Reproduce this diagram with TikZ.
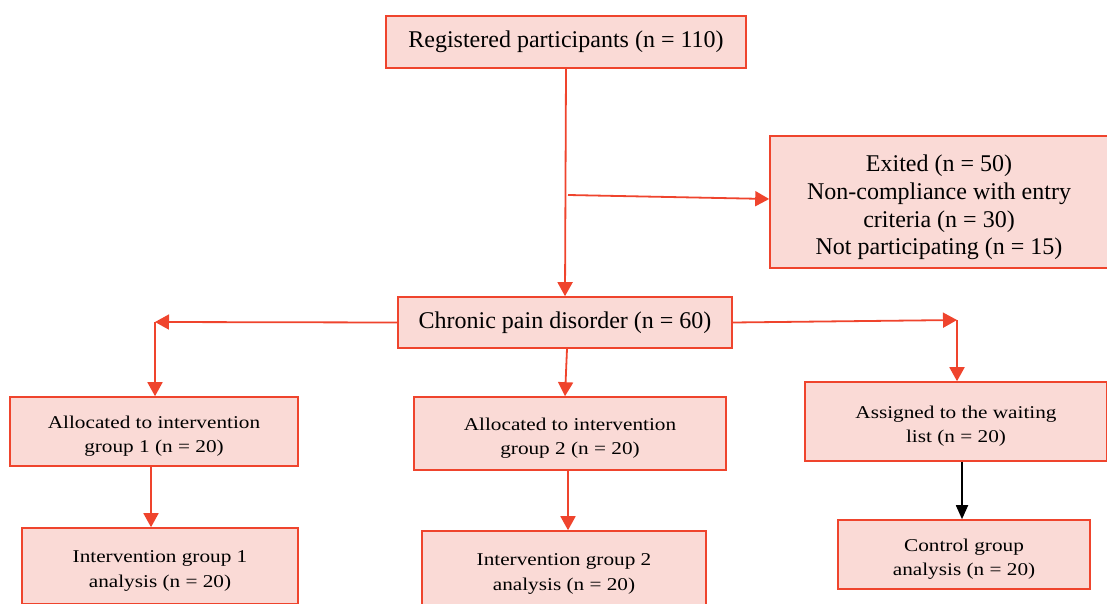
\documentclass[tikz,border=0pt]{standalone}
\usepackage{fontspec}
\setmainfont{Liberation Serif}
\newfontfamily\narrowserif[FakeStretch=1.18]{Liberation Serif}
\usetikzlibrary{arrows.meta, calc}

\definecolor{boxred}{RGB}{239,68,45}
\definecolor{boxpink}{RGB}{250,218,214}

% extra room above the first line of a box
\newcommand{\bigstrut}{\rule{0pt}{27.5pt}}
\newcommand{\smallstrut}{\rule{0pt}{22pt}}

\tikzset{
    box/.style={draw=boxred, fill=boxpink, line width=1.6pt, align=center, inner sep=0pt},
    bigtext/.style={font=\fontsize{24}{27.7}\selectfont},
    smalltext/.style={font=\fontsize{18}{24.5}\narrowserif},
    arr/.style={draw=boxred, line width=1.8pt, -{Triangle[length=14pt,width=15pt]}},
    blackarr/.style={draw=black, line width=1.8pt, -{Triangle[length=14pt,width=12pt]}}
}

\begin{document}
\begin{tikzpicture}[x=1pt, y=-1pt]
        \useasboundingbox (0,0) rectangle (1107,604);

        \node[box, bigtext, minimum width=360pt, minimum height=52pt] (reg) at (566,42) {Registered participants (n = 110)};
        \node[box, bigtext, minimum width=338pt, minimum height=132pt] (exit) at (939,202) {\bigstrut Exited (n = 50)\\Non-compliance with entry\\criteria (n = 30)\\Not participating (n = 15)};
        \node[box, bigtext, minimum width=334pt, minimum height=51pt] (chronic) at (565,322.5) {Chronic pain disorder (n = 60)};

        \node[box, smalltext, minimum width=288pt, minimum height=69pt] (alloc1) at (154,431.5) {\smallstrut Allocated to intervention\\group 1 (n = 20)};
        \node[box, smalltext, minimum width=312pt, minimum height=73pt] (alloc2) at (570,433.5) {\smallstrut Allocated to intervention\\group 2 (n = 20)};
        \node[box, smalltext, minimum width=302pt, minimum height=79pt] (wait) at (956,421.5) {\smallstrut Assigned to the waiting\\list (n = 20)};

        \node[box, smalltext, minimum width=276pt, minimum height=76pt] (ana1) at (160,566) {\smallstrut Intervention group 1\\analysis (n = 20)};
        \node[box, smalltext, minimum width=284pt, minimum height=76pt] (ana2) at (564,569) {\smallstrut Intervention group 2\\analysis (n = 20)};
        \node[box, smalltext, minimum width=252pt, minimum height=69pt] (control) at (964,554.5) {\smallstrut Control group\\analysis (n = 20)};

        \coordinate (split) at (568,195);
        \coordinate (left) at (155,322);
        \coordinate (right) at (957,320);

        \draw[arr] (reg.south) -- (chronic.north);
        \draw[arr] (split) -- ($(exit.west)+(0,-3)$);
        \draw[arr] (chronic.west) -- (left);
        \draw[arr] (left) -- (left |- alloc1.north);
        \draw[arr] (chronic.east) -- (right);
        \draw[arr] (right) -- (right |- wait.north);
        \draw[arr] ($(chronic.south)+(2,0)$) -- ($(alloc2.north)+(-5,0)$);
        \draw[arr] ($(alloc1.south)+(-3,0)$) -- ($(alloc1.south |- ana1.north)+(-3,0)$);
        \draw[arr] ($(alloc2.south)+(-2,0)$) -- ($(alloc2.south |- ana2.north)+(-2,0)$);
        \draw[blackarr] ($(control.north |- wait.south)+(-2,0)$) -- ($(control.north)+(-2,0)$);
    \end{tikzpicture}
\end{document}
